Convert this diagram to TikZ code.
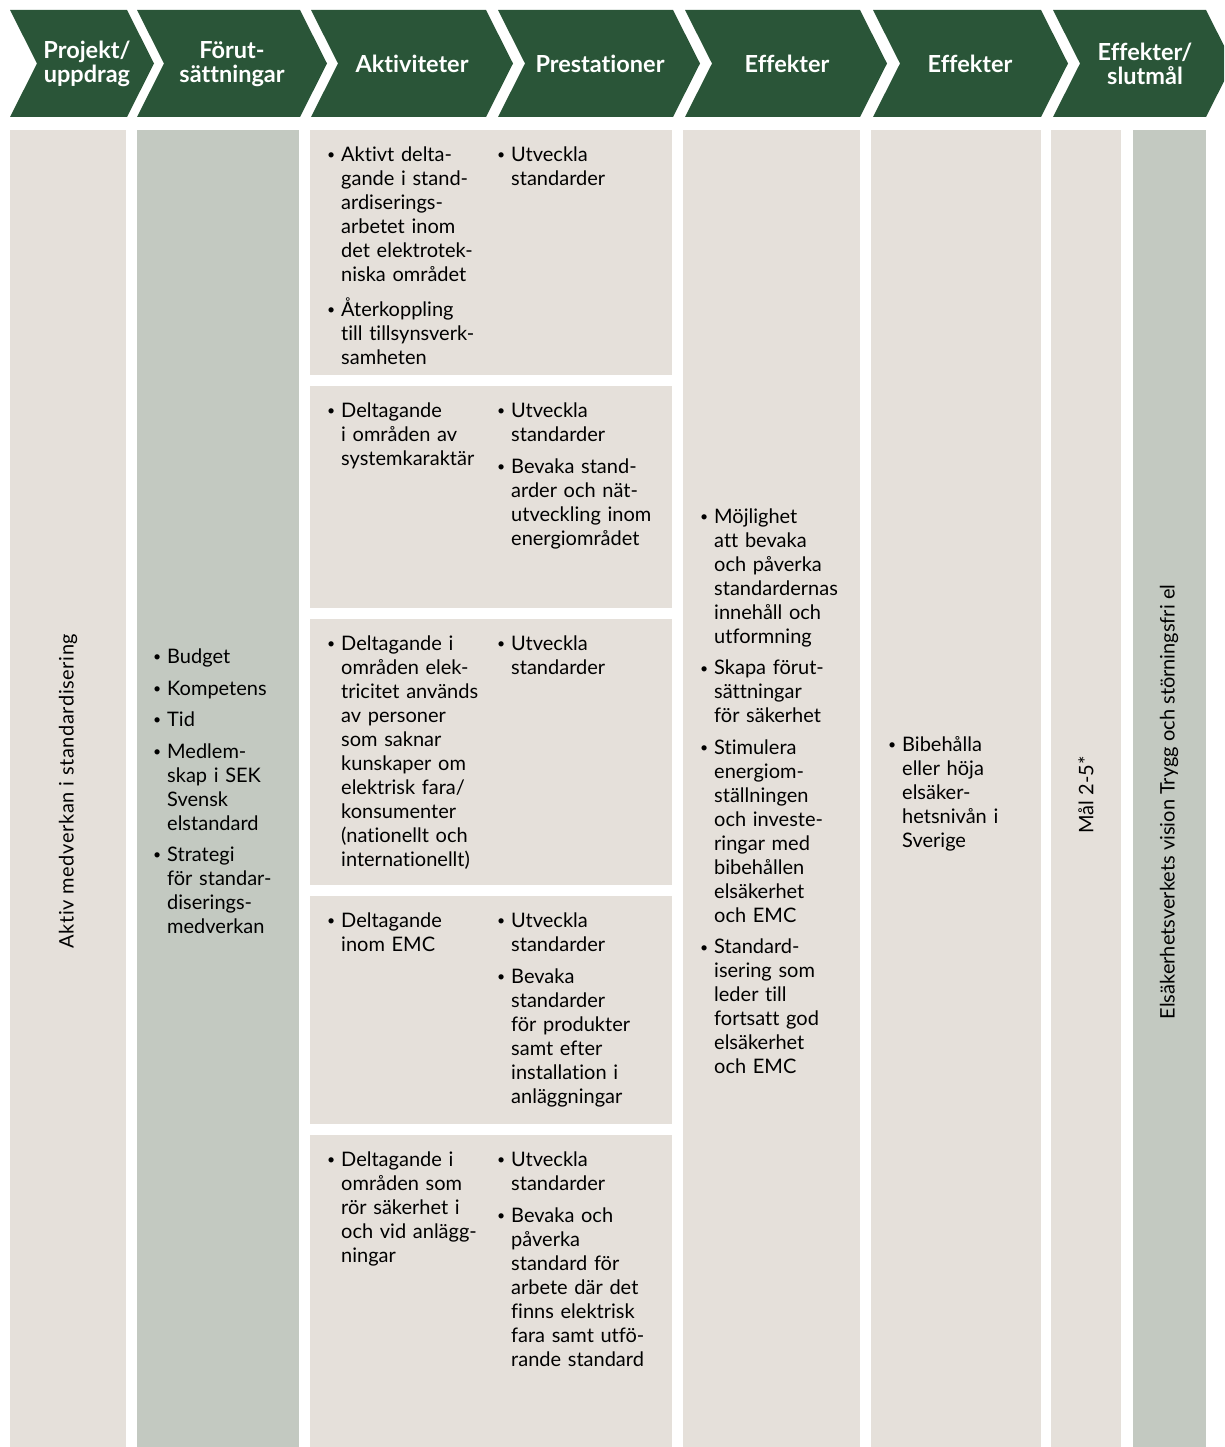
\documentclass[tikz,border=0pt]{standalone}
\usepackage{fontspec}
\setmainfont{Lato}[Ligatures=NoCommon]
\definecolor{hdrgreen}{RGB}{42,85,56}
\definecolor{boxbeige}{RGB}{229,224,218}
\definecolor{boxsage}{RGB}{195,201,193}
\newcommand{\bitem}[1]{\par\hangindent=14pt\hangafter=1\noindent\strut\hbox to 14pt{\raisebox{1.8pt}{\fontsize{14}{14}\selectfont\textbullet}\hss}#1\strut\par}
\newcommand{\chevron}[2]{\fill[hdr] (#1,10) -- (#2,10) -- ({#2+27},63.5) -- (#2,117) -- (#1,117) -- ({#1+27},63.5) -- cycle;}

\begin{document}
\begin{tikzpicture}[x=1pt, y=-1pt,
  hdr/.style={fill=hdrgreen},
  beigebox/.style={fill=boxbeige},
  sagebox/.style={fill=boxsage},
  hdrtext/.style={text=white, inner sep=0pt, align=center, font=\fontsize{23.5}{24}\selectfont\bfseries},
  bullets/.style={text width=220pt, align=left, inner sep=0pt, font=\fontsize{20}{24}\selectfont, execute at begin node=\setlength{\parskip}{7.5pt}},
  vtext/.style={rotate=90, inner sep=0pt, font=\fontsize{20}{24}\selectfont}]
\useasboundingbox (0,0) rectangle (1224,1447);
%% 헤더 화살표
\begin{scope}
\clip (0,0) rectangle (1224,1447);
\chevron{10}{127}
\chevron{137}{300}
\chevron{311}{486}
\chevron{498}{673}
\chevron{685}{860}
\chevron{873}{1041}
\chevron{1053}{1206}
\end{scope}
\node[hdrtext] (hprojekt) at (87,64) {Projekt/\\uppdrag};
\node[hdrtext] (hforut) at (232,64) {Förut-\\sättningar};
\node[hdrtext] (haktiv) at (412,64) {Aktiviteter};
\node[hdrtext] (hprest) at (600,64) {Prestationer};
\node[hdrtext] (heffa) at (787,64) {Effekter};
\node[hdrtext] (heffb) at (970,64) {Effekter};
\node[hdrtext] (hslut) at (1145,64) {Effekter/\\slutmål};
%% 열 배경
\fill[beigebox] (10,130) rectangle (126,1447);
\fill[sagebox] (137,130) rectangle (299,1447);
\fill[beigebox] (310,130) rectangle (672,375);
\fill[beigebox] (310,386) rectangle (672,608);
\fill[beigebox] (310,619) rectangle (672,885);
\fill[beigebox] (310,896) rectangle (672,1124);
\fill[beigebox] (310,1135) rectangle (672,1447);
\fill[beigebox] (683,130) rectangle (860,1447);
\fill[beigebox] (871,130) rectangle (1041,1447);
\fill[beigebox] (1051,130) rectangle (1121,1447);
\fill[sagebox] (1133,130) rectangle (1206,1447);
%% 세로 글자
\node[vtext] (projekt) at (68,791) {\addfontfeature{LetterSpace=3}Aktiv medverkan i standardisering};
\node[vtext] (mal) at (1086,795) {Mål 2-5*};
\node[vtext] (vision) at (1169,802) {Elsäkerhetsverkets vision Trygg och störningsfri el};
%% 목록
\node[bullets, anchor=west] (forut) at (153,786.5) {\bitem{Budget}\bitem{Kompetens}\bitem{Tid}\bitem{Medlem-\newline skap i SEK\newline Svensk\newline elstandard}\bitem{Strategi\newline för standar-\newline diserings-\newline medverkan}};
\node[bullets, anchor=north west] (aktiva) at (327,130) {\bitem{Aktivt delta-\newline gande i stand-\newline ardiserings-\newline arbetet inom\newline det elektrotek-\newline niska området}\bitem{Återkoppling\newline till tillsynsverk-\newline samheten}};
\node[bullets, anchor=north west] (presta) at (497,130) {\bitem{Utveckla\newline standarder}};
\node[bullets, anchor=north west] (aktivb) at (327,386) {\bitem{Deltagande\newline i områden av\newline systemkaraktär}};
\node[bullets, anchor=north west] (prestb) at (497,386) {\bitem{Utveckla\newline standarder}\bitem{Bevaka stand-\newline arder och nät-\newline utveckling inom\newline energiområdet}};
\node[bullets, anchor=north west] (aktivc) at (327,619) {\bitem{Deltagande i\newline områden elek-\newline tricitet används\newline av personer\newline som saknar\newline kunskaper om\newline elektrisk fara/\newline konsumenter\newline (nationellt och\newline internationellt)}};
\node[bullets, anchor=north west] (prestc) at (497,619) {\bitem{Utveckla\newline standarder}};
\node[bullets, anchor=north west] (aktivd) at (327,896) {\bitem{Deltagande\newline inom EMC}};
\node[bullets, anchor=north west] (prestd) at (497,896) {\bitem{Utveckla\newline standarder}\bitem{Bevaka\newline standarder\newline för produkter\newline samt efter\newline installation i\newline anläggningar}};
\node[bullets, anchor=north west] (aktive) at (327,1135) {\bitem{Deltagande i\newline områden som\newline rör säkerhet i\newline och vid anlägg-\newline ningar}};
\node[bullets, anchor=north west] (preste) at (497,1135) {\bitem{Utveckla\newline standarder}\bitem{Bevaka och\newline påverka\newline standard för\newline arbete där det\newline finns elektrisk\newline fara samt utfö-\newline rande standard}};
\node[bullets, anchor=west] (effa) at (700,786.5) {\bitem{Möjlighet\newline att bevaka\newline och påverka\newline standardernas\newline innehåll och\newline utformning}\bitem{Skapa förut-\newline sättningar\newline för säkerhet}\bitem{Stimulera\newline energiom-\newline ställningen\newline och investe-\newline ringar med\newline bibehållen\newline elsäkerhet\newline och EMC}\bitem{Standard-\newline isering som\newline leder till\newline fortsatt god\newline elsäkerhet\newline och EMC}};
\node[bullets, anchor=west] (effb) at (888,787.5) {\bitem{Bibehålla\newline eller höja\newline elsäker-\newline hetsnivån i\newline Sverige}};
\end{tikzpicture}
\end{document}
